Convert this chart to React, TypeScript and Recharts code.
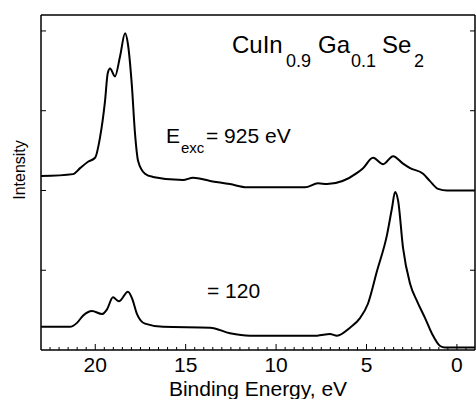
import { LineChart, Line, XAxis, YAxis } from "recharts";

// binding energy (eV) / intensity for the two excitation energies
const upperEnergy = [23.0, 21.23, 20.84, 20.4, 20.01, 19.74, 19.46, 19.31, 19.18, 18.91, 18.63, 18.35, 18.19, 17.98, 17.8, 17.63, 17.25, 16.81, 15.15, 14.59, 13.65, 12.55, 11.61, 8.4, 7.68, 7.18, 5.52, 5.19, 4.64, 4.08, 3.53, 3.0, 2.59, 1.87, 1.5, 1.04, 0.54, -1.0];
const upperIntensity = [2.18, 2.205, 2.28, 2.36, 2.41, 2.66, 3.12, 3.47, 3.53, 3.43, 3.68, 3.97, 3.83, 3.33, 2.71, 2.37, 2.21, 2.17, 2.13, 2.16, 2.12, 2.08, 2.04, 2.04, 2.09, 2.08, 2.22, 2.28, 2.41, 2.33, 2.43, 2.34, 2.28, 2.21, 2.12, 2.02, 2.0, 2.0];

const lowerEnergy = [23.0, 21.4, 21.01, 20.68, 20.18, 19.63, 19.35, 19.02, 18.69, 18.19, 17.97, 17.69, 17.25, 16.25, 13.65, 12.55, 11.44, 7.73, 7.02, 6.63, 5.91, 5.36, 4.92, 4.42, 3.86, 3.59, 3.42, 3.25, 2.98, 2.59, 2.2, 1.76, 1.37, 0.93, 0.66, -1.0];
const lowerIntensity = [0.29, 0.29, 0.34, 0.43, 0.49, 0.45, 0.51, 0.66, 0.61, 0.73, 0.65, 0.45, 0.33, 0.29, 0.28, 0.21, 0.18, 0.18, 0.2, 0.18, 0.28, 0.4, 0.58, 0.99, 1.45, 1.78, 1.98, 1.87, 1.28, 0.83, 0.61, 0.4, 0.2, 0.05, 0.03, 0.03];

const xMajor = [0, 5, 10, 15, 20];
const xTicks = [-0.5, 0, 0.5, 1, 1.5, 2, 2.5, 3, 3.5, 4, 4.5, 5, 5.5, 6, 6.5, 7, 7.5, 8, 8.5, 9, 9.5, 10, 10.5, 11, 11.5, 12, 12.5, 13, 13.5, 14, 14.5, 15, 15.5, 16, 16.5, 17, 17.5, 18, 18.5, 19, 19.5, 20, 20.5, 21, 21.5, 22, 22.5];
const yTicks = [1, 2, 3, 4];

const upperData = upperEnergy.map((e, i) => ({ e, v: upperIntensity[i] }));
const lowerData = lowerEnergy.map((e, i) => ({ e, v: lowerIntensity[i] }));

const FONT = "'Liberation Sans', Arial, Helvetica, sans-serif";

const BottomTick = ({ x, y, payload }: any) => {
  const major = xMajor.includes(payload.value);
  return (
    <g>
      <line x1={x} x2={x} y1={y} y2={y - (major ? 6 : 3)} stroke="#000" strokeWidth={1} />
      {major && (
        <text x={x} y={y + 22} textAnchor="middle" fontSize={21} fontFamily={FONT} fill="#000">
          {payload.value}
        </text>
      )}
    </g>
  );
};

const LeftTick = ({ x, y }: any) => <line x1={x} x2={x + 5} y1={y} y2={y} stroke="#000" strokeWidth={1} />;
const RightTick = ({ x, y }: any) => <line x1={x} x2={x - 5} y1={y} y2={y} stroke="#000" strokeWidth={1} />;

// text placed by baseline (line-height 1, Liberation Sans metrics)
const Txt = ({ x, base, size, children }: any) => (
  <div
    style={{
      position: "absolute",
      left: x,
      top: base - 0.8465 * size,
      fontSize: size,
      lineHeight: 1,
      fontFamily: FONT,
      whiteSpace: "nowrap",
      color: "#000",
    }}
  >
    {children}
  </div>
);

export default function App() {
  return (
    <div style={{ position: "absolute", left: 0, top: 0, width: 476, height: 399, background: "#fff" }}>
      <LineChart width={476} height={399} margin={{ top: 0, right: 0, bottom: 0, left: 0 }}>
        <XAxis
          xAxisId="bottom"
          dataKey="e"
          type="number"
          domain={[-1, 23]}
          allowDataOverflow
          reversed
          ticks={xTicks}
          interval={0}
          height={49}
          stroke="#000"
          strokeWidth={1.5}
          tickSize={0}
          tickMargin={0}
          tickLine={false}
          tick={(p: any) => <BottomTick {...p} />}
        />
        <XAxis
          xAxisId="top"
          orientation="top"
          type="number"
          domain={[-1, 23]}
          allowDataOverflow
          reversed
          ticks={xTicks}
          interval={0}
          height={15}
          stroke="#000"
          strokeWidth={1.5}
          tickSize={-3}
          tick={false}
        />
        <YAxis
          yAxisId="left"
          type="number"
          domain={[0, 4.2]}
          allowDataOverflow
          ticks={yTicks}
          interval={0}
          width={41}
          stroke="#000"
          strokeWidth={1.5}
          tickSize={0}
          tickMargin={0}
          tickLine={false}
          tick={(p: any) => <LeftTick {...p} />}
        />
        <YAxis
          yAxisId="right"
          orientation="right"
          type="number"
          domain={[0, 4.2]}
          allowDataOverflow
          ticks={yTicks}
          interval={0}
          width={1}
          stroke="#000"
          strokeWidth={1.5}
          tickSize={0}
          tickMargin={0}
          tickLine={false}
          tick={(p: any) => <RightTick {...p} />}
        />
        <Line
          xAxisId="bottom"
          yAxisId="left"
          data={upperData}
          dataKey="v"
          type="monotone"
          stroke="#000"
          strokeWidth={2}
          dot={false}
          isAnimationActive={false}
        />
        <Line
          xAxisId="bottom"
          yAxisId="right"
          data={lowerData}
          dataKey="v"
          type="monotone"
          stroke="#000"
          strokeWidth={2}
          dot={false}
          isAnimationActive={false}
        />
      </LineChart>

      <Txt x={232} base={53} size={24}>CuIn</Txt>
      <Txt x={286} base={67} size={18}>0.9</Txt>
      <Txt x={318} base={53} size={24}>Ga</Txt>
      <Txt x={351} base={67} size={18}>0.1</Txt>
      <Txt x={382} base={53} size={24}>Se</Txt>
      <Txt x={414} base={67} size={18}>2</Txt>

      <Txt x={166} base={143} size={21}>E</Txt>
      <Txt x={181} base={153} size={15}>exc</Txt>
      <Txt x={206} base={143} size={21}>= 925 eV</Txt>

      <Txt x={207} base={298} size={21}>= 120</Txt>

      <div
        style={{
          position: "absolute",
          left: 58,
          width: 400,
          top: 396 - 0.8465 * 21,
          fontSize: 21,
          lineHeight: 1,
          fontFamily: FONT,
          textAlign: "center",
          whiteSpace: "nowrap",
        }}
      >
        Binding Energy, eV
      </div>
      <div
        style={{
          position: "absolute",
          left: 19.5 - 100,
          top: 170 - 8,
          width: 200,
          height: 16,
          fontSize: 16,
          lineHeight: 1,
          fontFamily: FONT,
          textAlign: "center",
          whiteSpace: "nowrap",
          transform: "rotate(-90deg)",
        }}
      >
        Intensity
      </div>
    </div>
  );
}
